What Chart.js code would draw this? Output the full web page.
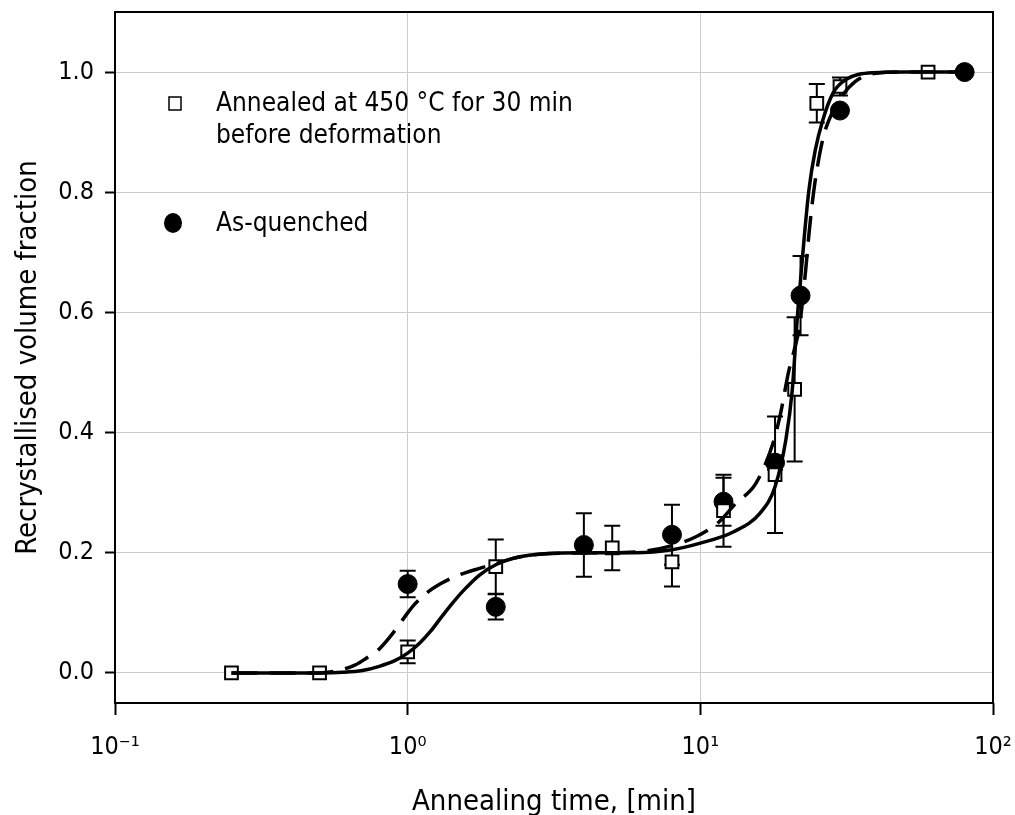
<!DOCTYPE html>
<html>
<head>
<meta charset="utf-8">
<script src="https://cdn.jsdelivr.net/npm/chart.js@4.4.1/dist/chart.umd.min.js"></script>
<style>
  html, body { margin: 0; padding: 0; background: #fff; }
</style>
</head>
<body>
<canvas id="chart" width="1015" height="815"></canvas>
<script>
// open squares: annealed at 450 C for 30 min before deformation
const annealedTime = [0.25, 0.5, 1, 2, 5, 8, 12, 18, 21, 25, 30, 60];
const annealedFrac = [0, 0, 0.035, 0.177, 0.208, 0.185, 0.27, 0.33, 0.472, 0.948, 0.976, 1.0];
const annealedErr  = [0, 0, 0.019, 0.045, 0.037, 0.041, 0.06, 0.097, 0.12, 0.032, 0.015, 0];

// filled circles: as-quenched
const quenchedTime = [1, 2, 4, 8, 12, 18, 22, 30, 80];
const quenchedFrac = [0.148, 0.11, 0.213, 0.23, 0.285, 0.35, 0.628, 0.936, 1.0];
const quenchedErr  = [0.022, 0.021, 0.053, 0.05, 0.04, 0.012, 0.066, 0, 0];

// fitted curves
const fitAnnealedTime = [0.25, 0.5, 0.6, 0.7, 0.8, 0.9, 1.0, 1.1, 1.2, 1.3, 1.4, 1.55, 1.76, 2.0, 2.3, 2.6, 3.0, 4.0, 6.0, 8.0, 10, 13, 16, 18, 19.6, 20.6, 21.5, 22.0, 22.6, 23.5, 24.7, 26.2, 28.4, 31.3, 38.7, 50, 80];
const fitAnnealedFrac = [0, 0, 0.001, 0.004, 0.011, 0.02, 0.033, 0.05, 0.07, 0.092, 0.112, 0.137, 0.163, 0.18, 0.191, 0.196, 0.199, 0.2, 0.2, 0.205, 0.216, 0.235, 0.266, 0.31, 0.388, 0.47, 0.598, 0.654, 0.72, 0.804, 0.87, 0.92, 0.965, 0.987, 0.999, 1, 1];

const fitQuenchedTime = [0.25, 0.5, 0.59, 0.66, 0.72, 0.8, 0.87, 0.95, 1.0, 1.05, 1.16, 1.29, 1.43, 1.58, 1.76, 2.0, 2.4, 3.1, 4.5, 6.2, 8.0, 9.7, 11.5, 13.2, 15.5, 17.7, 18.8, 20.0, 21.0, 21.8, 22.9, 23.5, 24.1, 24.7, 26.2, 27.5, 29.8, 33.8, 39.8, 50, 80];
const fitQuenchedFrac = [0, 0, 0.005, 0.013, 0.024, 0.04, 0.06, 0.085, 0.1, 0.113, 0.133, 0.148, 0.159, 0.167, 0.174, 0.182, 0.193, 0.199, 0.2, 0.202, 0.212, 0.227, 0.25, 0.282, 0.316, 0.382, 0.432, 0.5, 0.54, 0.576, 0.67, 0.73, 0.78, 0.82, 0.888, 0.92, 0.953, 0.984, 0.998, 1, 1];

const xTicks = [0.1, 1, 10, 100];
const xTickLabels = ['10\u207B\u00B9', '10\u2070', '10\u00B9', '10\u00B2'];
const yTicks = [0, 0.2, 0.4, 0.6, 0.8, 1.0];

const legendLabels = [['Annealed at 450 \u00B0C for 30 min', 'before deformation'], ['As-quenched']];

const FONT = "'DejaVu Sans Condensed', 'DejaVu Sans', sans-serif";

function pts(xs, ys) {
  return xs.map((x, i) => ({ x: x, y: ys[i] }));
}

// vertical error bars with caps, drawn under the markers
const errorBars = {
  id: 'errorBars',
  beforeDatasetsDraw(chart) {
    const ctx = chart.ctx;
    const xs = chart.scales.x, ys = chart.scales.y;
    const sets = [[annealedTime, annealedFrac, annealedErr], [quenchedTime, quenchedFrac, quenchedErr]];
    ctx.save();
    ctx.strokeStyle = '#000';
    ctx.lineWidth = 2;
    sets.forEach(s => {
      s[0].forEach((t, i) => {
        const e = s[2][i];
        if (!e) return;
        const px = xs.getPixelForValue(t);
        const top = ys.getPixelForValue(s[1][i] + e);
        const bot = ys.getPixelForValue(s[1][i] - e);
        ctx.beginPath();
        ctx.moveTo(px, top); ctx.lineTo(px, bot);
        ctx.moveTo(px - 8, top); ctx.lineTo(px + 8, top);
        ctx.moveTo(px - 8, bot); ctx.lineTo(px + 8, bot);
        ctx.stroke();
      });
    });
    ctx.restore();
  }
};

// box round the plot and the legend inside it
const frame = {
  id: 'frame',
  afterDraw(chart) {
    const ctx = chart.ctx;
    const a = chart.chartArea;
    ctx.save();
    ctx.strokeStyle = '#000';
    ctx.lineWidth = 2;
    ctx.strokeRect(a.left, a.top, a.right - a.left, a.bottom - a.top);

    // legend
    const mx = a.left + 60, tx = a.left + 101;
    ctx.lineWidth = 1.5;
    ctx.fillStyle = '#fff';
    ctx.fillRect(mx - 6, a.top + 85, 12, 13);
    ctx.strokeRect(mx - 6, a.top + 85, 12, 13);
    ctx.fillStyle = '#000';
    ctx.beginPath();
    ctx.ellipse(mx - 2, a.top + 211, 9, 10, 0, 0, Math.PI * 2);
    ctx.fill();

    ctx.font = '26px ' + FONT;
    ctx.textBaseline = 'middle';
    ctx.textAlign = 'left';
    ctx.fillText(legendLabels[0][0], tx, a.top + 92);
    ctx.fillText(legendLabels[0][1], tx, a.top + 124);
    ctx.fillText(legendLabels[1][0], tx, a.top + 212);
    ctx.restore();
  }
};

new Chart(document.getElementById('chart'), {
  type: 'line',
  data: {
    datasets: [
      {
        label: 'Annealed fit',
        data: pts(fitAnnealedTime, fitAnnealedFrac),
        borderColor: '#000',
        borderWidth: 3.5,
        pointRadius: 0,
        cubicInterpolationMode: 'monotone',
        order: 1
      },
      {
        label: 'As-quenched fit',
        data: pts(fitQuenchedTime, fitQuenchedFrac),
        borderColor: '#000',
        borderWidth: 3.5,
        borderDash: [26, 12],
        pointRadius: 0,
        cubicInterpolationMode: 'monotone',
        order: 1
      },
      {
        label: 'Annealed at 450 \u00B0C for 30 min before deformation',
        data: pts(annealedTime, annealedFrac),
        showLine: false,
        pointStyle: 'rect',
        pointRadius: 9,
        pointBorderWidth: 2,
        pointBackgroundColor: '#fff',
        pointBorderColor: '#000',
        order: 2
      },
      {
        label: 'As-quenched',
        data: pts(quenchedTime, quenchedFrac),
        showLine: false,
        pointStyle: 'circle',
        pointRadius: 9.5,
        pointBorderWidth: 1,
        pointBackgroundColor: '#000',
        pointBorderColor: '#000',
        order: 2
      }
    ]
  },
  options: {
    responsive: false,
    animation: false,
    devicePixelRatio: 1,
    layout: { padding: { left: 0, right: 22, top: 12, bottom: 0 } },
    plugins: {
      legend: { display: false },
      tooltip: { enabled: false }
    },
    scales: {
      x: {
        type: 'logarithmic',
        min: 0.1,
        max: 100,
        afterBuildTicks: s => { s.ticks = xTicks.map(v => ({ value: v })); },
        afterFit: s => { s.height = 112; s.paddingLeft = 0; s.paddingRight = 0; },
        ticks: {
          callback: (v, i) => xTickLabels[i],
          autoSkip: false,
          maxRotation: 0,
          padding: 17,
          color: '#000',
          font: { family: FONT, size: 25 }
        },
        grid: { color: '#cccccc', lineWidth: 1, tickColor: '#000', tickLength: 12, tickWidth: 2 },
        border: { display: false },
        title: {
          display: true,
          text: 'Annealing time, [min]',
          color: '#000',
          font: { family: FONT, size: 29, lineHeight: 0.83 },
          padding: 0
        }
      },
      y: {
        min: -0.05,
        max: 1.1,
        afterBuildTicks: s => { s.ticks = yTicks.map(v => ({ value: v })); },
        afterFit: s => { s.width = 115; s.paddingTop = 0; s.paddingBottom = 0; },
        ticks: {
          callback: v => v.toFixed(1),
          padding: 11,
          color: '#000',
          font: { family: FONT, size: 25 }
        },
        grid: { color: '#cccccc', lineWidth: 1, tickColor: '#000', tickLength: 10, tickWidth: 2 },
        border: { display: false },
        title: {
          display: true,
          text: 'Recrystallised volume fraction',
          color: '#000',
          font: { family: FONT, size: 29 },
          padding: { top: 11, bottom: 0 }
        }
      }
    }
  },
  plugins: [errorBars, frame]
});
</script>
</body>
</html>
